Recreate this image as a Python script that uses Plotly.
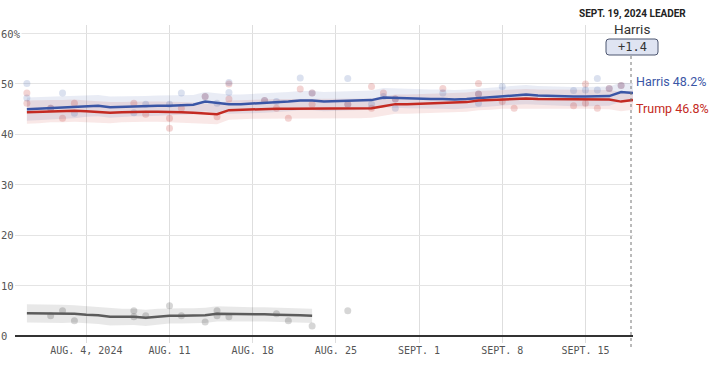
import plotly.graph_objects as go
import pandas as pd

# ---------------- data ----------------
line_dates = pd.date_range("2024-07-30", "2024-09-19", freq="D")
harris_avg = [45.0, 45.1, 45.2, 45.3, 45.4, 45.6, 45.7, 45.4, 45.5, 45.6,
              45.6, 45.7, 45.7, 45.8, 45.9, 46.5, 46.2, 46.0, 46.0, 46.1,
              46.2, 46.3, 46.5, 46.7, 46.7, 46.5, 46.6, 46.6, 46.7, 46.8,
              47.3, 47.2, 47.1, 47.0, 47.0, 47.0, 46.9, 47.0, 47.2, 47.4,
              47.6, 47.8, 47.9, 47.7, 47.6, 47.6, 47.5, 47.5, 47.5, 47.6,
              48.4, 48.2]
trump_avg = [44.4, 44.5, 44.6, 44.6, 44.7, 44.6, 44.4, 44.3, 44.4, 44.5,
             44.5, 44.5, 44.5, 44.4, 44.3, 44.1, 44.0, 44.8, 44.9, 45.0,
             45.0, 45.1, 45.1, 45.1, 45.1, 45.1, 45.1, 45.1, 45.1, 45.2,
             45.6, 46.0, 46.0, 46.1, 46.1, 46.2, 46.3, 46.4, 46.7, 46.8,
             47.0, 47.1, 47.1, 47.0, 47.0, 47.0, 47.0, 47.0, 47.0, 46.9,
             46.5, 46.8]
harris_moe = [2.3, 2.3, 2.2, 2.2, 2.2, 2.1, 2.1, 2.1, 2.0, 2.0,
              2.0, 2.0, 2.0, 1.9, 1.9, 1.9, 1.9, 1.9, 1.9, 1.9,
              1.9, 1.9, 1.9, 1.9, 1.9, 1.9, 1.9, 1.9, 1.9, 1.9,
              1.9, 1.9, 1.9, 1.9, 1.9, 1.9, 1.9, 1.9, 1.9, 1.9,
              1.9, 1.9, 1.9, 1.9, 1.9, 1.9, 1.9, 1.9, 1.9, 1.9,
              1.9, 1.9]
trump_moe = [2.3, 2.3, 2.2, 2.2, 2.2, 2.1, 2.1, 2.1, 2.0, 2.0,
             2.0, 2.0, 2.0, 2.0, 2.0, 2.0, 2.0, 1.9, 1.9, 1.9,
             1.9, 1.9, 1.9, 1.9, 1.9, 1.9, 1.9, 1.9, 1.9, 1.9,
             1.9, 1.9, 1.9, 1.9, 1.9, 1.9, 1.9, 1.9, 1.9, 1.9,
             1.9, 1.9, 1.9, 1.9, 1.9, 1.9, 1.9, 1.9, 1.9, 1.9,
             1.9, 1.9]

rfk_dates = pd.date_range("2024-07-30", "2024-08-23", freq="D")
rfk_avg = [4.5, 4.5, 4.4, 4.4, 4.4, 4.2, 4.1, 3.8, 3.8, 3.8,
           3.6, 3.8, 4.0, 4.0, 4.0, 4.1, 4.4, 4.4, 4.3, 4.3,
           4.3, 4.2, 4.2, 4.1, 4.0]
rfk_moe = [1.8, 1.8, 1.8, 1.8, 1.7, 1.7, 1.7, 1.7, 1.6, 1.6,
           1.6, 1.6, 1.5, 1.5, 1.5, 1.5, 1.5, 1.4, 1.4, 1.4,
           1.4, 1.4, 1.4, 1.4, 1.4]

harris_poll_dates = ["2024-07-30", "2024-07-30", "2024-08-01", "2024-08-02", "2024-08-03",
                     "2024-08-08", "2024-08-09", "2024-08-11", "2024-08-12", "2024-08-14",
                     "2024-08-15", "2024-08-16", "2024-08-16", "2024-08-19", "2024-08-20",
                     "2024-08-22", "2024-08-23", "2024-08-26", "2024-08-26", "2024-08-28",
                     "2024-08-29", "2024-08-30", "2024-08-30", "2024-09-03", "2024-09-06",
                     "2024-09-06", "2024-09-08", "2024-09-14", "2024-09-15", "2024-09-16",
                     "2024-09-16", "2024-09-17", "2024-09-18"]
harris_poll_values = [50.1, 47.2, 45.2, 48.2, 44.2, 44.3, 46.0, 46.0, 48.2, 47.5,
                      46.2, 50.3, 48.3, 46.7, 46.5, 51.2, 48.2, 51.1, 46.0, 46.0,
                      47.5, 47.0, 45.2, 48.2, 46.2, 48.0, 49.5, 48.7, 48.8, 51.1,
                      48.8, 49.1, 49.7]
trump_poll_dates = ["2024-07-30", "2024-07-30", "2024-08-01", "2024-08-02", "2024-08-03",
                    "2024-08-08", "2024-08-09", "2024-08-11", "2024-08-11", "2024-08-12",
                    "2024-08-14", "2024-08-15", "2024-08-16", "2024-08-16", "2024-08-19",
                    "2024-08-20", "2024-08-21", "2024-08-22", "2024-08-23", "2024-08-23",
                    "2024-08-26", "2024-08-28", "2024-08-28", "2024-08-29", "2024-08-30",
                    "2024-09-03", "2024-09-06", "2024-09-06", "2024-09-08", "2024-09-09",
                    "2024-09-14", "2024-09-15", "2024-09-15", "2024-09-16", "2024-09-17",
                    "2024-09-18"]
trump_poll_values = [48.2, 46.2, 45.2, 43.2, 46.2, 46.2, 44.0, 43.2, 41.2, 45.2,
                     47.5, 43.5, 50.0, 47.0, 46.7, 45.2, 43.2, 49.0, 48.2, 46.0,
                     46.0, 49.5, 45.2, 48.2, 47.0, 49.1, 50.1, 48.0, 46.5, 45.2,
                     45.7, 50.0, 46.2, 45.2, 49.1, 49.7]
rfk_poll_dates = ["2024-08-01", "2024-08-02", "2024-08-03", "2024-08-08", "2024-08-08",
                  "2024-08-09", "2024-08-11", "2024-08-12", "2024-08-14", "2024-08-15",
                  "2024-08-15", "2024-08-16", "2024-08-20", "2024-08-21", "2024-08-23",
                  "2024-08-26"]
rfk_poll_values = [4.0, 5.0, 3.0, 5.0, 3.8, 4.0, 6.0, 4.0, 2.8, 5.0,
                   4.0, 3.8, 4.4, 3.0, 2.0, 5.0]

x_tick_dates = ["2024-08-04", "2024-08-11", "2024-08-18", "2024-08-25",
                "2024-09-01", "2024-09-08", "2024-09-15"]
x_tick_labels = ["AUG. 4, 2024", "AUG. 11", "AUG. 18", "AUG. 25",
                 "SEPT. 1", "SEPT. 8", "SEPT. 15"]
y_tick_values = [0, 10, 20, 30, 40, 50, 60]
y_tick_labels = ["0", "10", "20", "30", "40", "50", "60%"]

leader_date = "SEPT. 19, 2024 LEADER"
leader_name = "Harris"

# ---------------- style ----------------
BLUE = "#3a56a6"
RED = "#c42a22"
GRAY = "#5c5c5c"
MONO = "DejaVu Sans Mono"
SANS = "Roboto"

W, H = 710, 375
ML, MR, MT, MB = 15, 77, 25, 32
PL, PR, PT, PB = ML, W - MR, MT, H - MB


def px(xp):
    return (xp - PL) / (PR - PL)


def py(yp):
    return (PB - yp) / (PB - PT)


fig = go.Figure()


def band(dates, avg, moe, color):
    up = [a + m for a, m in zip(avg, moe)]
    lo = [a - m for a, m in zip(avg, moe)]
    xs = list(dates) + list(dates)[::-1]
    ys = up + lo[::-1]
    fig.add_trace(go.Scatter(x=xs, y=ys, fill="toself", fillcolor=color,
                             line=dict(width=0), mode="lines", hoverinfo="skip"))


band(rfk_dates, rfk_avg, rfk_moe, "rgba(0,0,0,0.09)")
band(line_dates, trump_avg, trump_moe, "rgba(196,42,34,0.11)")
band(line_dates, harris_avg, harris_moe, "rgba(58,86,166,0.11)")

fig.add_trace(go.Scatter(x=rfk_poll_dates, y=rfk_poll_values, mode="markers",
                         marker=dict(size=7, color="rgba(0,0,0,0.16)", line=dict(width=0))))
fig.add_trace(go.Scatter(x=trump_poll_dates, y=trump_poll_values, mode="markers",
                         marker=dict(size=7, color="rgba(196,42,34,0.2)", line=dict(width=0))))
fig.add_trace(go.Scatter(x=harris_poll_dates, y=harris_poll_values, mode="markers",
                         marker=dict(size=7, color="rgba(58,86,166,0.18)", line=dict(width=0))))

fig.add_trace(go.Scatter(x=rfk_dates, y=rfk_avg, mode="lines",
                         line=dict(color=GRAY, width=2.5)))
fig.add_trace(go.Scatter(x=line_dates, y=harris_avg, mode="lines",
                         line=dict(color=BLUE, width=2.5)))
fig.add_trace(go.Scatter(x=line_dates, y=trump_avg, mode="lines",
                         line=dict(color=RED, width=2.5)))

annotations = []
for v, t in zip(y_tick_values, y_tick_labels):
    annotations.append(dict(x=px(0), xref="paper", xanchor="left", y=v, yref="y",
                            yanchor="middle", text=t, showarrow=False, bgcolor="white",
                            borderpad=0, font=dict(family=MONO, size=10.5, color="#555")))

annotations += [
    dict(x=px(632), y=py(14), xref="paper", yref="paper", text="<b>" + leader_date + "</b>",
         showarrow=False, xanchor="center", yanchor="middle",
         font=dict(family=SANS, size=10, color="#222")),
    dict(x=px(632), y=py(29), xref="paper", yref="paper", text=leader_name,
         showarrow=False, xanchor="center", yanchor="middle",
         font=dict(family=SANS, size=13.5, color="#333")),
    dict(x=px(632), y=py(47), xref="paper", yref="paper",
         text="+" + format(harris_avg[-1] - trump_avg[-1], ".1f"),
         showarrow=False, xanchor="center", yanchor="middle",
         font=dict(family=MONO, size=12, color="#333")),
    dict(x=px(634), y=harris_avg[-1], xref="paper", yref="y", yshift=12,
         text="Harris " + format(harris_avg[-1], ".1f") + "%", showarrow=False,
         xanchor="left", yanchor="middle", font=dict(family=SANS, size=12.5, color=BLUE)),
    dict(x=px(634), y=trump_avg[-1], xref="paper", yref="y", yshift=-8,
         text="Trump " + format(trump_avg[-1], ".1f") + "%", showarrow=False,
         xanchor="left", yanchor="middle", font=dict(family=SANS, size=12.5, color=RED)),
]

# rounded box around margin
bx0, bx1, by0, by1 = px(606), px(658), py(55), py(39)
rx, ry = 3 / (PR - PL), 3 / (PB - PT)
path = (f"M {bx0+rx},{by0} L {bx1-rx},{by0} Q {bx1},{by0} {bx1},{by0+ry} "
        f"L {bx1},{by1-ry} Q {bx1},{by1} {bx1-rx},{by1} L {bx0+rx},{by1} "
        f"Q {bx0},{by1} {bx0},{by1-ry} L {bx0},{by0+ry} Q {bx0},{by0} {bx0+rx},{by0} Z")

shapes = [
    dict(type="path", path=path, xref="paper", yref="paper",
         fillcolor="#dfe4f2", line=dict(color="#4d5670", width=1), layer="above"),
    dict(type="line", xref="paper", yref="paper", x0=px(631), x1=px(631),
         y0=py(56), y1=py(350), line=dict(color="#777", width=1, dash="dot")),
]

fig.update_layout(
    width=W, height=H,
    margin=dict(l=ML, r=MR, t=MT, b=MB),
    plot_bgcolor="white", paper_bgcolor="white",
    showlegend=False,
    annotations=annotations,
    shapes=shapes,
    xaxis=dict(type="date", range=["2024-07-29", "2024-09-19"],
               tickvals=x_tick_dates, ticktext=x_tick_labels,
               showgrid=True, gridcolor="#dedede", gridwidth=1,
               zeroline=False, showline=False, ticks="",
               tickfont=dict(family=MONO, size=10, color="#555")),
    yaxis=dict(range=[-1.39, 61.7], tickvals=y_tick_values, showticklabels=False,
               showgrid=True, gridcolor="#e4e4e4", gridwidth=1,
               zeroline=True, zerolinecolor="#333", zerolinewidth=1.5,
               showline=False, ticks=""),
)

fig.write_html("out.html", config={"displayModeBar": False},
               post_script="document.body.style.margin='0';document.body.style.padding='0';")
